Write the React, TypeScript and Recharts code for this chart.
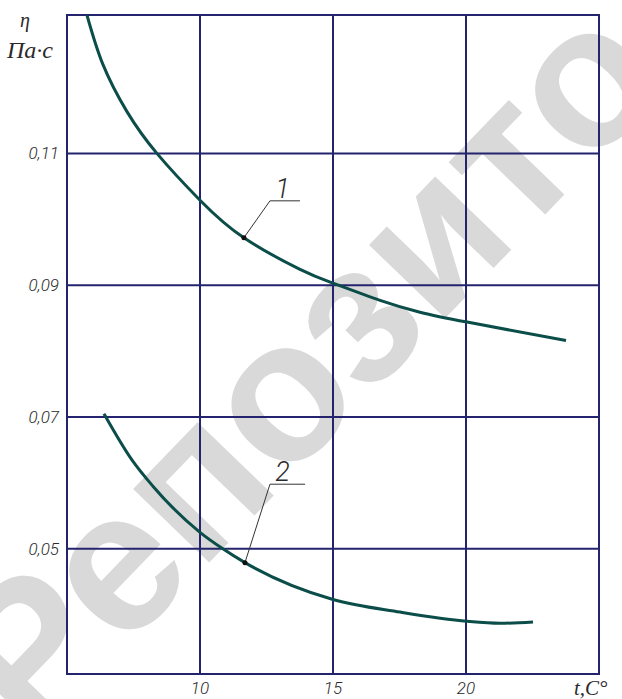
// Viscosity vs temperature chart, two curves with leader labels
import { LineChart, Line, XAxis, YAxis, CartesianGrid, ReferenceArea, ReferenceLine, ReferenceDot } from 'recharts'

const tempTicks = [10, 15, 20]
const etaTicks = [0.05, 0.07, 0.09, 0.11]

// curve 1
const curve1T = [5.75, 6.35, 7.26, 8.38, 10, 11.65, 13.76, 15, 16.77, 18.27, 20.04, 23.76]
const curve1Eta = [0.131, 0.1235, 0.1163, 0.11, 0.1029, 0.0972, 0.0924, 0.0903, 0.0877, 0.0859, 0.0844, 0.0816]

// curve 2
const curve2T = [6.39, 7.44, 8.23, 10, 10.86, 11.69, 15, 17.52, 20.04, 21.28, 22.52]
const curve2Eta = [0.0705, 0.0635, 0.0595, 0.0525, 0.05, 0.0479, 0.0423, 0.0404, 0.039, 0.0387, 0.0389]

// leader lines: marker point, bend, end of shelf
const leader1 = [{ x: 11.65, y: 0.0972 }, { x: 12.63, y: 0.1028 }, { x: 13.76, y: 0.1028 }]
const leader2 = [{ x: 11.69, y: 0.0479 }, { x: 12.63, y: 0.0598 }, { x: 13.95, y: 0.0598 }]

const curve1 = curve1T.map((t, i) => ({ t, eta: curve1Eta[i] }))
const curve2 = curve2T.map((t, i) => ({ t, eta: curve2Eta[i] }))

const GRID = '#24246e'
const CURVE = '#0b4d48'
const INK = '#2a2a2a'
const tickFont = "Roboto, 'DejaVu Sans Condensed', sans-serif"
const serif = "'Liberation Serif', 'DejaVu Serif', serif"

const XTick = (p: any) => (
  <text x={p.x} y={p.y} dy={12} textAnchor="middle" fill={INK}
    style={{ fontFamily: tickFont, fontStyle: 'italic', fontWeight: 300, fontSize: 17 }}>
    {p.payload.value}
  </text>
)

const YTick = (p: any) => (
  <text x={p.x} y={p.y} dy={6} textAnchor="end" fill={INK}
    style={{ fontFamily: tickFont, fontStyle: 'italic', fontWeight: 300, fontSize: 17 }}>
    {Number(p.payload.value).toFixed(2).replace('.', ',')}
  </text>
)

const labelStyle = { fill: INK, fontSize: 27, fontStyle: 'italic', fontWeight: 300, fontFamily: tickFont }

export default function App() {
  return (
    <div style={{ position: 'absolute', left: 0, top: 0, width: 622, height: 699, background: '#fff' }}>
      {/* watermark */}
      <svg width={622} height={699} style={{ position: 'absolute', left: 0, top: 0 }}>
        <text x={315} y={430} textAnchor="middle" fill="#d9d9d9" transform="rotate(-46 315 378)"
          style={{ fontFamily: "'Liberation Sans', Arial, sans-serif", fontWeight: 'bold', fontSize: 200 }}>
          Репозито
        </text>
      </svg>
      <div style={{ position: 'absolute', left: 0, top: 0 }}>
        <LineChart width={622} height={699} margin={{ top: 15, right: 23, bottom: 0, left: 7 }}>
          <CartesianGrid stroke={GRID} strokeWidth={2} />
          <XAxis dataKey="t" type="number" domain={[5, 25]} ticks={tempTicks} height={25}
            axisLine={false} tickLine={false} tick={XTick} allowDataOverflow />
          <YAxis type="number" domain={[0.031, 0.131]} ticks={etaTicks} width={60}
            axisLine={false} tickLine={false} tick={YTick} allowDataOverflow />
          <ReferenceArea x1={5} x2={25} y1={0.031} y2={0.131} fill="none" stroke={GRID} strokeWidth={2} fillOpacity={0} />
          <ReferenceLine segment={[leader1[0], leader1[1]]} stroke="#333" strokeWidth={1} />
          <ReferenceLine segment={[leader1[1], leader1[2]]} stroke="#333" strokeWidth={1} />
          <ReferenceLine segment={[leader2[0], leader2[1]]} stroke="#333" strokeWidth={1} />
          <ReferenceLine segment={[leader2[1], leader2[2]]} stroke="#333" strokeWidth={1} />
          <Line data={curve1} dataKey="eta" type="natural" stroke={CURVE} strokeWidth={3} dot={false} isAnimationActive={false} />
          <Line data={curve2} dataKey="eta" type="monotone" stroke={CURVE} strokeWidth={3} dot={false} isAnimationActive={false} />
          <ReferenceDot x={leader1[0].x} y={leader1[0].y} r={2.5} fill="#111" stroke="none" />
          <ReferenceDot x={leader2[0].x} y={leader2[0].y} r={2.5} fill="#111" stroke="none" />
          <ReferenceDot x={13.1} y={leader1[1].y} r={0} stroke="none"
            label={{ value: '1', position: 'top', offset: 3, ...labelStyle }} />
          <ReferenceDot x={13.1} y={leader2[1].y} r={0} stroke="none"
            label={{ value: '2', position: 'top', offset: 3, ...labelStyle }} />
        </LineChart>
      </div>
      {/* axis titles */}
      <svg width={622} height={699} style={{ position: 'absolute', left: 0, top: 0, pointerEvents: 'none' }}>
        <text x={25} y={27} textAnchor="middle" fill={INK} style={{ fontFamily: serif, fontStyle: 'italic', fontSize: 20 }}>η</text>
        <text x={7} y={58} fill={INK} style={{ fontFamily: serif, fontStyle: 'italic', fontSize: 24 }}>Па·с</text>
        <text x={574} y={695} fill={INK} style={{ fontFamily: serif, fontStyle: 'italic', fontSize: 21 }}>t,C°</text>
      </svg>
    </div>
  )
}
